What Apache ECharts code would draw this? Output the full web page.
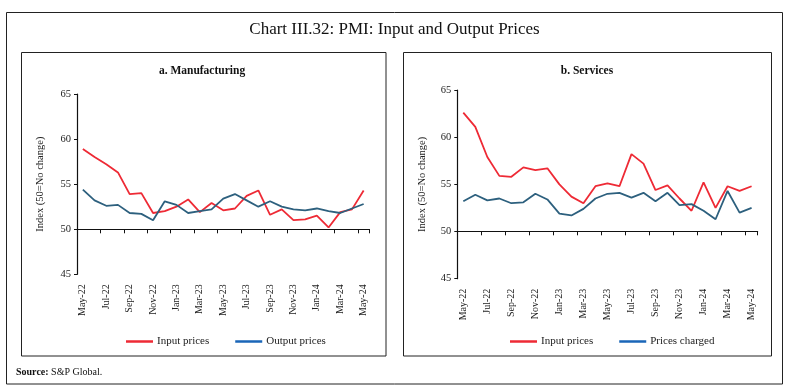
<!DOCTYPE html>
<html>
<head>
<meta charset="utf-8">
<script src="https://cdn.jsdelivr.net/npm/echarts@6/dist/echarts.min.js"></script>
<style>
html,body{margin:0;padding:0;background:#fff;}
#c{width:789px;height:390px;}
</style>
</head>
<body>
<div id="c"></div>
<script>
const months = ['May-22','Jun-22','Jul-22','Aug-22','Sep-22','Oct-22','Nov-22','Dec-22','Jan-23','Feb-23','Mar-23','Apr-23','May-23','Jun-23','Jul-23','Aug-23','Sep-23','Oct-23','Nov-23','Dec-23','Jan-24','Feb-24','Mar-24','Apr-24','May-24'];
const mfgInput = [58.9, 58.0, 57.2, 56.3, 53.9, 54.0, 51.8, 52.0, 52.5, 53.3, 51.9, 52.9, 52.1, 52.3, 53.7, 54.3, 51.6, 52.2, 51.0, 51.1, 51.5, 50.2, 51.9, 52.2, 54.3];
const mfgOutput = [54.4, 53.2, 52.6, 52.7, 51.8, 51.7, 51.0, 53.1, 52.7, 51.8, 52.0, 52.2, 53.4, 53.9, 53.2, 52.5, 53.1, 52.5, 52.2, 52.1, 52.3, 52.0, 51.8, 52.3, 52.8];
const svcInput = [62.6, 61.1, 57.9, 55.9, 55.8, 56.8, 56.5, 56.7, 55.0, 53.7, 53.0, 54.8, 55.1, 54.8, 58.2, 57.2, 54.4, 54.9, 53.5, 52.2, 55.2, 52.5, 54.8, 54.3, 54.8];
const svcCharged = [53.2, 53.9, 53.3, 53.5, 53.0, 53.1, 54.0, 53.4, 51.9, 51.7, 52.4, 53.5, 54.0, 54.1, 53.6, 54.1, 53.2, 54.1, 52.8, 52.9, 52.2, 51.3, 54.3, 52.0, 52.5];
const yTicks = {min: 45, max: 65, interval: 5};

const RED = '#ee2a35';
const BLUE = '#2d607e';
const LEG_BLUE = '#1a66b8';
const FONT = 'Liberation Serif';
const TXT = '#222';

function labelAxis(gi){
  return {
    type:'category', gridIndex: gi, data: months, boundaryGap: true,
    axisLine:{show:false}, axisTick:{show:false}, splitLine:{show:false},
    axisLabel:{rotate:90, interval:1, margin:10, fontSize:10, color:TXT, fontFamily:FONT}
  };
}
function lineAxis(gi){
  return {
    type:'category', gridIndex: gi, data: months, boundaryGap: true,
    axisLine:{show:true, lineStyle:{color:'#111', width:1.2}},
    axisTick:{show:true, interval:1, length:4, lineStyle:{color:'#111', width:1}},
    axisLabel:{show:false}, splitLine:{show:false}
  };
}
function valAxis(gi, gap){
  return {
    type:'value', gridIndex: gi, min: yTicks.min, max: yTicks.max, interval: yTicks.interval,
    axisLine:{show:true, lineStyle:{color:'#111', width:1.2}},
    axisTick:{show:true, length:3, lineStyle:{color:'#111'}},
    axisLabel:{fontSize:10.5, color:TXT, margin:6, fontFamily:FONT},
    splitLine:{show:false},
    name:'Index (50=No change)', nameLocation:'middle', nameGap: gap,
    nameTextStyle:{fontSize:10.5, color:TXT, fontFamily:FONT}
  };
}
function hiddenVal(gi){
  return {type:'value', gridIndex: gi, min:0, max:1, show:false};
}
function lineSeries(name, data, color, xi, yi){
  return {
    type:'line', name, data, xAxisIndex: xi, yAxisIndex: yi,
    symbol:'none', smooth:false, lineStyle:{color, width:1.8}, itemStyle:{color},
    silent:true, animation:false
  };
}

const chart = echarts.init(document.getElementById('c'), null, {renderer:'canvas'});
chart.setOption({
  animation:false,
  textStyle:{fontFamily:FONT},
  grid:[
    {left:77, top:94, width:292.5, height:180.3},
    {left:77, top:94, width:292.5, height:135.3},
    {left:457.3, top:90, width:300.3, height:188.7},
    {left:457.3, top:90, width:300.3, height:141.3}
  ],
  xAxis:[labelAxis(0), lineAxis(1), labelAxis(2), lineAxis(3)],
  yAxis:[valAxis(0, 31), hiddenVal(1), valAxis(2, 30), hiddenVal(3)],
  series:[
    lineSeries('Input prices', mfgInput, RED, 0, 0),
    lineSeries('Output prices', mfgOutput, BLUE, 0, 0),
    lineSeries('Input prices', svcInput, RED, 2, 2),
    lineSeries('Prices charged', svcCharged, BLUE, 2, 2)
  ],
  legend:[
    {left:121, top:331, icon:'rect', itemWidth:27, itemHeight:2.5, itemGap:26, selectedMode:false,
     textStyle:{fontSize:11, color:TXT, fontFamily:FONT, padding:[0,0,0,-1]},
     data:[{name:'Input prices', itemStyle:{color:RED}}, {name:'Output prices', itemStyle:{color:LEG_BLUE}}]},
    {left:505, top:331, icon:'rect', itemWidth:27, itemHeight:2.5, itemGap:26, selectedMode:false,
     textStyle:{fontSize:11, color:TXT, fontFamily:FONT, padding:[0,0,0,-1]},
     data:[{name:'Input prices', itemStyle:{color:RED}}, {name:'Prices charged', itemStyle:{color:LEG_BLUE}}]}
  ],
  graphic:[
    {type:'rect', shape:{x:6.5, y:12.5, width:776, height:371.5}, style:{fill:null, stroke:'#222', lineWidth:1}, silent:true},
    {type:'rect', shape:{x:21.5, y:52.5, width:364.5, height:303.5}, style:{fill:null, stroke:'#222', lineWidth:1}, silent:true},
    {type:'rect', shape:{x:403.5, y:52.5, width:368, height:303.5}, style:{fill:null, stroke:'#222', lineWidth:1}, silent:true},
    {type:'text', left:'center', top:21, style:{text:'Chart III.32: PMI: Input and Output Prices', font:'17px "Liberation Serif"', fill:'#111'}},
    {type:'text', x:202, y:71, style:{text:'a. Manufacturing', font:'bold 11.5px "Liberation Serif"', fill:'#111', textAlign:'center', textVerticalAlign:'middle'}},
    {type:'text', x:587, y:71, style:{text:'b. Services', font:'bold 11.5px "Liberation Serif"', fill:'#111', textAlign:'center', textVerticalAlign:'middle'}},
    {type:'text', x:16, y:372, style:{text:'{b|Source:} S&P Global.', textVerticalAlign:'middle', rich:{b:{fontWeight:'bold', fontSize:10, fontFamily:FONT, fill:'#111'}}, font:'10px "Liberation Serif"', fill:'#111'}}
  ]
});
</script>
</body>
</html>
